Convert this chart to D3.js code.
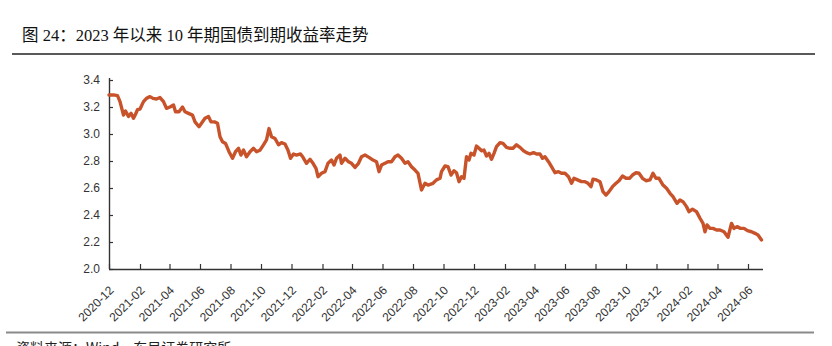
<!DOCTYPE html>
<html>
<head>
<meta charset="utf-8">
<script src="https://cdn.jsdelivr.net/npm/d3@7/dist/d3.min.js"></script>
<style>
  html, body { margin: 0; padding: 0; background: #fff; }
  svg { display: block; }
</style>
</head>
<body>
<script>
const titleText = "图 24：2023 年以来 10 年期国债到期收益率走势";
const sourceText = "资料来源：Wind，东吴证券研究所";

const dates = [
"2020-12-01","2020-12-10","2020-12-18","2020-12-23","2020-12-30","2021-01-03","2021-01-09","2021-01-14","2021-01-19","2021-01-23",
"2021-01-27","2021-02-01","2021-02-08","2021-02-14","2021-02-21","2021-02-27","2021-03-06","2021-03-13","2021-03-20","2021-03-26",
"2021-04-02","2021-04-09","2021-04-13","2021-04-20","2021-04-27","2021-05-02","2021-05-09","2021-05-17","2021-05-22","2021-05-30",
"2021-06-04","2021-06-11","2021-06-18","2021-06-23","2021-06-30","2021-07-06","2021-07-11","2021-07-16","2021-07-22","2021-07-29",
"2021-08-05","2021-08-11","2021-08-17","2021-08-22","2021-08-27","2021-09-02","2021-09-09","2021-09-16","2021-09-22","2021-09-29",
"2021-10-06","2021-10-12","2021-10-17","2021-10-22","2021-10-29","2021-11-05","2021-11-11","2021-11-18","2021-11-24","2021-11-29",
"2021-12-05","2021-12-11","2021-12-19","2021-12-24","2021-12-31","2022-01-07","2022-01-13","2022-01-19","2022-01-23","2022-01-30",
"2022-02-06","2022-02-12","2022-02-19","2022-02-24","2022-03-01","2022-03-08","2022-03-11","2022-03-18","2022-03-25","2022-03-31",
"2022-04-07","2022-04-14","2022-04-20","2022-04-27","2022-05-05","2022-05-13","2022-05-20","2022-05-25","2022-05-30","2022-06-06",
"2022-06-12","2022-06-19","2022-06-26","2022-07-02","2022-07-09","2022-07-16","2022-07-22","2022-07-29","2022-08-05","2022-08-11",
"2022-08-18","2022-08-25","2022-08-31","2022-09-10","2022-09-17","2022-09-24","2022-09-27","2022-10-04","2022-10-10","2022-10-16",
"2022-10-22","2022-10-27","2022-11-01","2022-11-06","2022-11-11","2022-11-16","2022-11-21","2022-11-25","2022-12-01","2022-12-06",
"2022-12-11","2022-12-16","2022-12-21","2022-12-26","2022-12-31","2023-01-05","2023-01-10","2023-01-15","2023-01-22","2023-01-28",
"2023-02-04","2023-02-11","2023-02-17","2023-02-24","2023-03-03","2023-03-10","2023-03-16","2023-03-23","2023-03-30","2023-04-05",
"2023-04-12","2023-04-17","2023-04-22","2023-04-29","2023-05-05","2023-05-12","2023-05-19","2023-05-25","2023-06-01","2023-06-08",
"2023-06-14","2023-06-19","2023-06-26","2023-07-04","2023-07-11","2023-07-17","2023-07-23","2023-07-27","2023-08-03","2023-08-10",
"2023-08-16","2023-08-22","2023-08-28","2023-09-04","2023-09-11","2023-09-17","2023-09-24","2023-10-01","2023-10-08","2023-10-14",
"2023-10-21","2023-10-27","2023-11-03","2023-11-10","2023-11-18","2023-11-24","2023-11-30","2023-12-06","2023-12-14","2023-12-21",
"2023-12-28","2024-01-03","2024-01-11","2024-01-17","2024-01-23","2024-01-30","2024-02-04","2024-02-11","2024-02-19","2024-02-26",
"2024-03-03","2024-03-07","2024-03-11","2024-03-17","2024-03-23","2024-03-30","2024-04-06","2024-04-14","2024-04-22","2024-04-29",
"2024-05-04","2024-05-10","2024-05-17","2024-05-24","2024-05-31","2024-06-08","2024-06-15","2024-06-21","2024-06-28"
];

const yields = [
3.289,3.290,3.284,3.240,3.140,3.170,3.130,3.153,3.116,3.146,
3.180,3.185,3.240,3.264,3.277,3.264,3.259,3.270,3.240,3.190,
3.200,3.215,3.165,3.165,3.200,3.165,3.153,3.140,3.090,3.054,
3.080,3.116,3.130,3.090,3.090,3.080,2.980,2.943,2.930,2.869,
2.820,2.869,2.894,2.844,2.881,2.832,2.869,2.894,2.869,2.880,
2.920,2.956,3.040,2.980,2.967,2.920,2.936,2.926,2.880,2.820,
2.852,2.844,2.852,2.827,2.783,2.813,2.783,2.746,2.684,2.709,
2.721,2.783,2.807,2.770,2.820,2.844,2.783,2.820,2.795,2.783,
2.753,2.783,2.832,2.844,2.827,2.807,2.795,2.721,2.770,2.783,
2.795,2.795,2.832,2.844,2.820,2.783,2.795,2.758,2.733,2.709,
2.585,2.635,2.622,2.635,2.660,2.672,2.721,2.763,2.758,2.696,
2.728,2.713,2.647,2.684,2.672,2.832,2.807,2.857,2.844,2.911,
2.894,2.876,2.881,2.837,2.857,2.813,2.857,2.906,2.936,2.931,
2.901,2.894,2.894,2.920,2.901,2.876,2.862,2.852,2.862,2.852,
2.852,2.820,2.832,2.795,2.758,2.713,2.721,2.709,2.709,2.684,
2.635,2.672,2.660,2.647,2.647,2.635,2.610,2.665,2.660,2.647,
2.573,2.548,2.573,2.610,2.635,2.654,2.689,2.672,2.672,2.696,
2.713,2.709,2.672,2.654,2.660,2.709,2.672,2.672,2.622,2.598,
2.561,2.536,2.487,2.511,2.499,2.462,2.425,2.443,2.425,2.376,
2.338,2.276,2.326,2.301,2.301,2.289,2.289,2.276,2.235,2.338,
2.301,2.314,2.301,2.301,2.284,2.276,2.264,2.252,2.215
];

const xTickLabels = ["2020-12","2021-02","2021-04","2021-06","2021-08","2021-10","2021-12",
"2022-02","2022-04","2022-06","2022-08","2022-10","2022-12","2023-02","2023-04","2023-06",
"2023-08","2023-10","2023-12","2024-02","2024-04","2024-06"];
const yTickValues = [2.0,2.2,2.4,2.6,2.8,3.0,3.2,3.4];
const xDomain = ["2020-12-01","2024-06-29"];
const yDomain = [2.0, 3.4];

const W = 832, H = 346;
const parse = d3.timeParse("%Y-%m-%d");
const parseM = d3.timeParse("%Y-%m");
const data = dates.map((d,i) => ({date: parse(d), v: yields[i]}));

const svg = d3.select("body").append("svg").attr("width", W).attr("height", H);

const x = d3.scaleTime().domain(xDomain.map(parse)).range([109, 762]);
const y = d3.scaleLinear().domain(yDomain).range([269, 80]);

// title
svg.append("text")
  .attr("x", 22).attr("y", 41)
  .attr("font-family", "'Liberation Serif','Noto Sans CJK SC',serif")
  .attr("font-size", 16.5).attr("fill", "#111")
  .text(titleText);
svg.append("line").attr("x1", 12).attr("x2", 815).attr("y1", 54).attr("y2", 54)
  .attr("stroke", "#222").attr("stroke-width", 1.6);

// bottom rule and source
svg.append("line").attr("x1", 6).attr("x2", 814).attr("y1", 332.5).attr("y2", 332.5)
  .attr("stroke", "#8a8a8a").attr("stroke-width", 2);
svg.append("text")
  .attr("x", 16).attr("y", 353)
  .attr("font-family", "'Noto Sans CJK SC',sans-serif")
  .attr("font-size", 14).attr("fill", "#222")
  .text(sourceText);

// y axis
const yAxis = d3.axisLeft(y).tickValues(yTickValues).tickFormat(d3.format(".1f"))
  .tickSizeInner(-4).tickSizeOuter(0).tickPadding(9);
const gy = svg.append("g").attr("transform", "translate(109,0)").call(yAxis);
gy.select(".domain").attr("stroke", "#333").attr("stroke-width", 1.4).attr("d", "M0.5,78V269");
gy.selectAll(".tick line").attr("stroke", "#333").attr("stroke-width", 1.2);
gy.selectAll(".tick text").attr("font-family", "'Liberation Sans',Arial,sans-serif")
  .attr("font-size", 12).attr("fill", "#333");

// x axis
const xAxis = d3.axisBottom(x).tickValues(xTickLabels.map(parseM))
  .tickFormat(d3.timeFormat("%Y-%m")).tickSizeInner(-5).tickSizeOuter(0);
const gx = svg.append("g").attr("transform", "translate(0,269)").call(xAxis);
gx.select(".domain").attr("stroke", "#333").attr("stroke-width", 1.4).attr("d", "M109,0.5H763");
gx.selectAll(".tick line").attr("stroke", "#333").attr("stroke-width", 1.2);
gx.selectAll(".tick text")
  .attr("font-family", "'Liberation Sans',Arial,sans-serif")
  .attr("font-size", 12).attr("fill", "#333")
  .attr("x", 0).attr("y", 0).attr("dy", 0)
  .attr("text-anchor", "end")
  .attr("transform", "translate(5,22) rotate(-45)");

// line
const line = d3.line().x(d => x(d.date)).y(d => y(d.v)).curve(d3.curveLinear);
svg.append("path").datum(data)
  .attr("d", line)
  .attr("fill", "none")
  .attr("stroke", "#C8532A")
  .attr("stroke-width", 3.4)
  .attr("stroke-linejoin", "round")
  .attr("stroke-linecap", "round");
</script>
</body>
</html>
